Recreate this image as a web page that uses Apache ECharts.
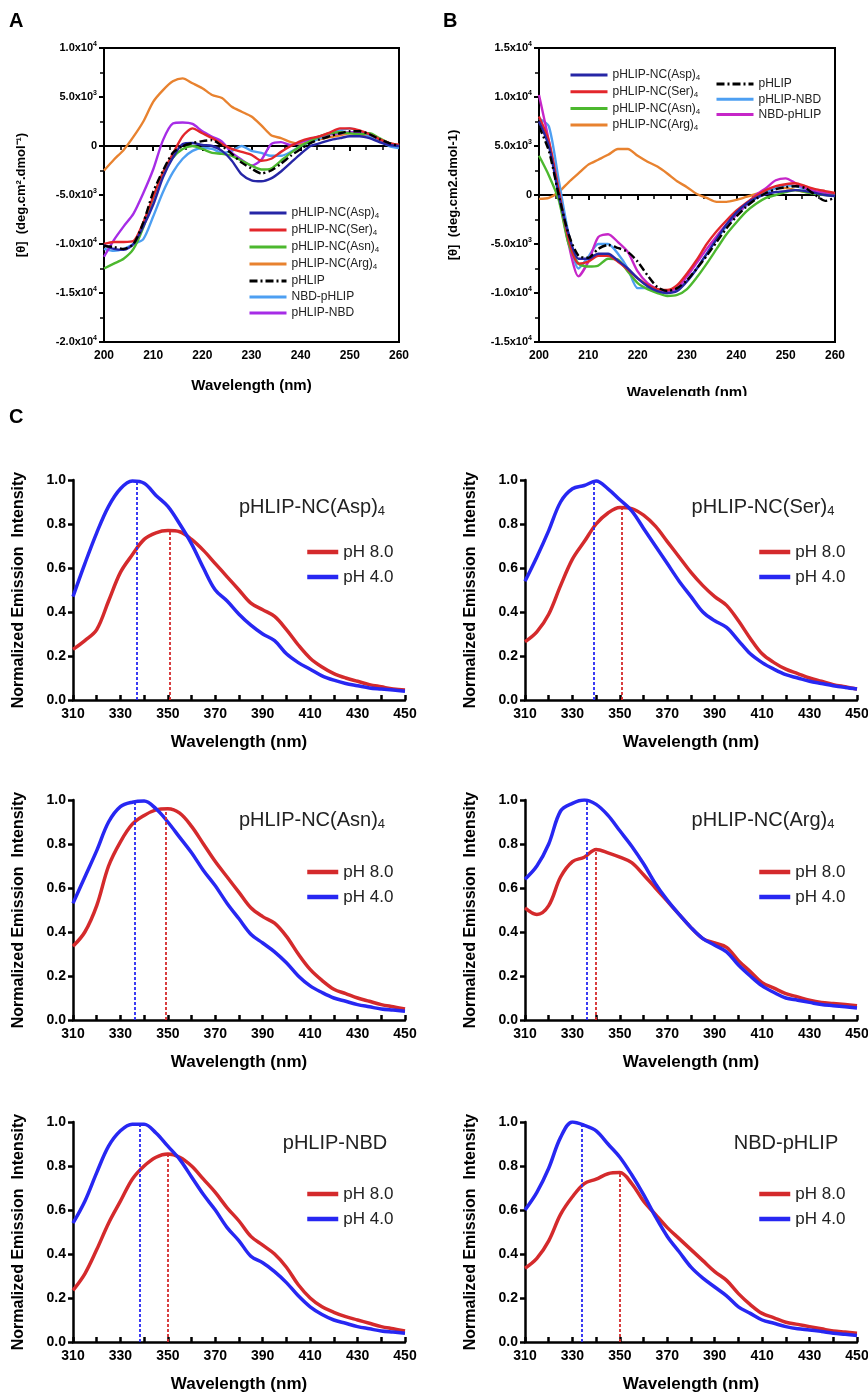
<!DOCTYPE html>
<html>
<head>
<meta charset="utf-8">
<script src="https://cdn.jsdelivr.net/npm/echarts@6/dist/echarts.min.js"></script>
<style>
html,body{margin:0;padding:0;background:#fff;}
#wrap{position:relative;width:868px;height:1394px;overflow:hidden;}
#cA{position:absolute;left:0;top:0;width:434px;height:398px;}
#cB{position:absolute;left:434px;top:0;width:434px;height:396px;}
#cC{position:absolute;left:0;top:400px;width:868px;height:994px;}
</style>
</head>
<body>
<div id="wrap"><div id="cA"></div><div id="cB"></div><div id="cC"></div></div>
<script>
// ---------- Panel A / B : CD spectra ----------
const wlCD = [200,202,204,206,208,210,212,214,216,218,220,222,224,226,228,230,232,234,236,238,240,242,244,246,248,250,252,254,256,258,260];
const cdTicksY_A = [-20000,-15000,-10000,-5000,0,5000,10000];
const cdTicksY_B = [-15000,-10000,-5000,0,5000,10000,15000];

// Panel A series
const A_asp  = [-10100,-10500,-10600,-10000,-8200,-6000,-3200,-1200,200,300,100,0,-500,-1500,-2900,-3500,-3600,-3300,-2600,-1700,-800,0,300,600,800,1000,1000,800,400,100,0];
const A_ser  = [-10000,-9800,-9800,-9700,-7800,-5200,-2700,-800,1000,1800,1300,800,200,-300,-600,-900,-1500,-1300,-600,0,500,800,1000,1400,1800,1800,1600,1200,700,300,100];
const A_asn  = [-12500,-12000,-11500,-10500,-8300,-5300,-2700,-1200,-300,0,-300,-700,-800,-1000,-1500,-2000,-2400,-2300,-1500,-700,0,500,1000,1300,1400,1300,1200,1300,800,300,0];
const A_arg  = [-2500,-1400,-400,950,2500,4500,5700,6600,6900,6400,5900,5200,4900,4000,3500,3000,2100,1100,800,400,200,500,700,900,1100,1300,1200,1000,700,300,100];
const A_phlip= [-10200,-10300,-10500,-10000,-7800,-4700,-2500,-700,0,300,500,600,0,-800,-1700,-2300,-2800,-2500,-1800,-1000,-300,300,700,1000,1300,1500,1500,1200,700,300,0];
const A_nbdP = [-10500,-10700,-10500,-10000,-9500,-7200,-4700,-2700,-1300,-500,-200,-300,-700,-500,0,-500,-700,-1000,-1000,-600,0,400,800,1300,1600,1800,1500,1000,500,0,-200];
const A_pNbd = [-11300,-9600,-8200,-6900,-4800,-2400,600,2300,2400,2250,1500,950,450,-700,-1400,-2000,-1400,200,400,100,400,700,1000,1200,1300,1400,1400,1200,700,300,0];

// Panel B series
const B_asp  = [7500,5000,0,-4000,-6500,-6500,-6000,-6000,-6700,-7500,-8500,-9300,-9800,-10000,-9800,-8800,-7500,-6000,-4500,-3000,-1800,-900,-300,100,300,400,500,400,200,0,-100];
const B_ser  = [8000,5500,500,-4500,-7000,-6800,-6200,-6200,-6800,-7600,-8500,-9200,-9600,-9700,-9200,-8000,-6600,-5000,-3700,-2600,-1600,-800,-100,500,900,1100,1200,900,600,400,200];
const B_asn  = [4000,2000,-500,-5000,-7000,-7300,-7200,-6500,-6600,-7800,-9000,-9600,-10000,-10300,-10200,-9600,-8400,-7000,-5500,-4000,-2800,-1700,-900,-300,0,300,500,300,100,0,-100];
const B_arg  = [-400,-300,300,1300,2200,3100,3600,4100,4700,4700,4000,3400,2900,2200,1400,800,100,-300,-700,-700,-500,-200,100,400,700,700,500,300,200,100,0];
const B_phlip= [7000,4500,0,-4000,-6200,-6400,-5500,-5100,-5400,-5800,-6800,-8200,-9400,-9800,-9500,-8700,-7500,-6200,-4800,-3400,-2200,-1200,-400,200,600,800,900,700,0,-600,-300];
const B_pNbd = [7800,7000,1500,-4000,-7500,-6300,-5000,-5000,-6000,-7500,-9500,-9500,-9800,-10000,-9700,-8800,-7500,-6000,-4500,-3200,-2000,-1100,-300,300,700,1000,900,600,300,100,0];
const B_nbdP = [10200,5500,0,-5000,-8300,-6800,-4300,-4000,-4800,-5800,-7800,-9000,-9600,-9800,-9500,-8300,-6900,-5500,-4200,-3000,-2000,-1000,0,700,1500,1700,1200,700,400,200,0];

// ---------- Panel C : emission spectra ----------
const wlC = [310,315,320,325,330,335,340,345,350,355,360,365,370,375,380,385,390,395,400,405,410,415,420,425,430,435,440,445,450];
const asp4 = [.47,.62,.76,.88,.96,.995,.985,.93,.88,.80,.71,.60,.50,.45,.39,.34,.30,.27,.21,.17,.14,.11,.09,.075,.065,.055,.05,.045,.04];
const asp8 = [.23,.27,.32,.45,.58,.66,.73,.76,.77,.765,.73,.68,.62,.56,.50,.44,.41,.38,.32,.25,.19,.15,.12,.10,.085,.07,.06,.05,.045];
const ser4 = [.54,.65,.77,.90,.96,.975,.995,.96,.91,.86,.78,.70,.62,.54,.47,.40,.36,.33,.27,.21,.17,.14,.115,.10,.085,.075,.065,.057,.05];
const ser8 = [.265,.31,.39,.52,.64,.72,.80,.85,.875,.87,.84,.79,.72,.65,.58,.52,.47,.43,.36,.28,.21,.17,.14,.12,.10,.085,.07,.06,.05];
const asn4 = [.53,.65,.77,.90,.97,.99,.995,.96,.90,.83,.76,.68,.61,.53,.46,.39,.35,.31,.26,.20,.155,.125,.10,.085,.07,.06,.05,.045,.04];
const asn8 = [.335,.40,.52,.70,.81,.89,.93,.955,.96,.94,.88,.80,.72,.65,.58,.51,.47,.44,.38,.30,.23,.18,.14,.12,.10,.085,.07,.06,.05];
const arg4 = [.64,.70,.80,.95,.985,1.0,.98,.93,.86,.79,.71,.62,.545,.48,.42,.37,.34,.31,.25,.20,.155,.125,.10,.09,.08,.07,.065,.06,.055];
const arg8 = [.51,.48,.52,.65,.72,.74,.775,.76,.74,.715,.66,.60,.54,.48,.42,.37,.35,.33,.27,.22,.17,.145,.12,.105,.09,.08,.075,.07,.065];
const pnbd4 = [.54,.64,.77,.89,.96,.99,.99,.95,.89,.83,.75,.67,.60,.52,.46,.39,.36,.32,.27,.21,.16,.125,.10,.085,.07,.06,.05,.045,.04];
const pnbd8 = [.235,.31,.42,.54,.64,.74,.80,.84,.855,.84,.80,.74,.68,.61,.55,.48,.44,.40,.34,.26,.20,.16,.135,.115,.10,.085,.07,.06,.05];
const nbdp4 = [.60,.68,.79,.93,1.0,.985,.96,.90,.84,.76,.67,.57,.48,.41,.34,.29,.25,.21,.16,.13,.10,.085,.07,.06,.055,.048,.04,.035,.03];
const nbdp8 = [.335,.38,.46,.58,.66,.72,.74,.765,.77,.72,.64,.58,.52,.47,.42,.37,.32,.28,.22,.17,.13,.11,.09,.08,.07,.06,.05,.045,.04];
const peak4Wl  = [337,339,336,336,338,334];
const peak4Val = [1.0,1.0,1.0,1.0,1.0,0.985];
const peak8Wl  = [351,351,349,340,350,350];
const peak8Val = [0.77,0.875,0.96,0.775,0.855,0.77];
const cTitles = [['pHLIP-NC(Asp)','4'],['pHLIP-NC(Ser)','4'],['pHLIP-NC(Asn)','4'],['pHLIP-NC(Arg)','4'],['pHLIP-NBD',''],['NBD-pHLIP','']];
const cRed  = [asp8, ser8, asn8, arg8, pnbd8, nbdp8];
const cBlue = [asp4, ser4, asn4, arg4, pnbd4, nbdp4];
const cXTicks = [310,330,350,370,390,410,430,450];
const cYTicks = [0,0.2,0.4,0.6,0.8,1.0];

const FONT = "'Liberation Sans', Arial, Helvetica, sans-serif";
const C_ASP='#2626a6', C_SER='#e3262b', C_ASN='#4cb82e', C_ARG='#e8822f', C_PH='#000000', C_LB='#4d9ff2', C_PU='#a62ce6', C_MA='#c626c8';
const RED='#d42a2c', BLUE='#2727f2';

function sci(v){
  if (v === 0) return '{n|0}';
  const e = Math.floor(Math.log10(Math.abs(v)) + 1e-9);
  const m = v / Math.pow(10, e);
  return '{n|' + m.toFixed(1) + 'x10}{s|' + e + '}';
}
const sciRich = {
  n:{fontSize:11,fontWeight:'bold',fontFamily:FONT,color:'#000'},
  s:{fontSize:7,fontWeight:'bold',fontFamily:FONT,color:'#000',padding:[0,0,7,0]}
};
function subName(name){
  if (/\)4$/.test(name)) return '{a|' + name.slice(0,-1) + '}{s|4}';
  return '{a|' + name + '}';
}
const legRich = {
  a:{fontSize:12,fontFamily:FONT,color:'#222',lineHeight:14},
  s:{fontSize:8,fontFamily:FONT,color:'#222',padding:[6,0,0,0]}
};

function cdLine(name, data, color, dash){
  return {
    type:'line', name:name, data: wlCD.map((x,i)=>[x,data[i]]),
    smooth:0.25, symbol:'none', z: dash ? 5 : 3,
    lineStyle:{color:color,width:2.4,type: dash ? [8,3,2,3] : 'solid'},
    itemStyle:{color:color}
  };
}
function cdAxes(yMin, yMax, leftName, nameGapY){
  return {
    xAxis:{type:'value',min:200,max:260,interval:10,
      axisLine:{show:true,lineStyle:{color:'#000',width:2}},
      axisTick:{show:true,length:5,lineStyle:{color:'#000',width:2}},
      minorTick:{show:true,splitNumber:3,length:4,lineStyle:{color:'#000',width:1.5}},
      splitLine:{show:false},
      axisLabel:{color:'#000',fontSize:12,fontWeight:'bold',fontFamily:FONT,margin:8},
      name:'Wavelength (nm)',nameLocation:'middle',nameGap:36,
      nameTextStyle:{color:'#000',fontSize:15,fontWeight:'bold',fontFamily:FONT}},
    yAxis:{type:'value',min:yMin,max:yMax,interval:5000,
      axisLine:{show:true,lineStyle:{color:'#000',width:2}},
      axisTick:{show:true,length:5,lineStyle:{color:'#000',width:2}},
      minorTick:{show:true,splitNumber:2,length:4,lineStyle:{color:'#000',width:1.5}},
      splitLine:{show:false},
      axisLabel:{formatter:sci,rich:sciRich,margin:7},
      name:leftName,nameLocation:'middle',nameGap:nameGapY,
      nameTextStyle:{color:'#000',fontSize:13,fontWeight:'bold',fontFamily:FONT}}
  };
}
const legCommon = {orient:'vertical',padding:0,itemWidth:37,itemHeight:14,
  formatter:subName,textStyle:{rich:legRich,fontSize:12},itemStyle:{opacity:0},
  lineStyle:{width:3}};

// ---------- Chart A ----------
const chA = echarts.init(document.getElementById('cA'));
const axA = cdAxes(cdTicksY_A[0], cdTicksY_A[cdTicksY_A.length-1], '[θ]  (deg.cm².dmol⁻¹)', 76);
chA.setOption({
  animation:false,
  grid:{left:104,top:48,width:295,height:294,show:true,borderColor:'#000',borderWidth:2,backgroundColor:'transparent',outerBoundsMode:'none'},
  xAxis:axA.xAxis, yAxis:axA.yAxis,
  legend:Object.assign({},legCommon,{left:248,top:207,itemGap:4,
    data:['pHLIP-NC(Asp)4','pHLIP-NC(Ser)4','pHLIP-NC(Asn)4','pHLIP-NC(Arg)4','pHLIP','NBD-pHLIP','pHLIP-NBD']}),
  graphic:[{type:'text',left:9,top:11,style:{text:'A',fontSize:20,fontWeight:'bold',fontFamily:FONT,fill:'#000'}}],
  series:[
    cdLine('pHLIP-NC(Arg)4',A_arg,C_ARG),
    cdLine('NBD-pHLIP',A_nbdP,C_LB),
    cdLine('pHLIP-NBD',A_pNbd,C_PU),
    cdLine('pHLIP-NC(Asn)4',A_asn,C_ASN),
    cdLine('pHLIP-NC(Ser)4',A_ser,C_SER),
    cdLine('pHLIP-NC(Asp)4',A_asp,C_ASP),
    cdLine('pHLIP',A_phlip,C_PH,true)
  ]
});

// ---------- Chart B ----------
const chB = echarts.init(document.getElementById('cB'));
const axB = cdAxes(cdTicksY_B[0], cdTicksY_B[cdTicksY_B.length-1], '[θ]  (deg.cm2.dmol-1)', 79);
axB.xAxis.nameGap = 43;
chB.setOption({
  animation:false,
  grid:{left:105,top:48,width:296,height:294,show:true,borderColor:'#000',borderWidth:2,backgroundColor:'transparent',outerBoundsMode:'none'},
  xAxis:axB.xAxis, yAxis:axB.yAxis,
  legend:[
    Object.assign({},legCommon,{left:135,top:69,itemGap:3.7,
     data:['pHLIP-NC(Asp)4','pHLIP-NC(Ser)4','pHLIP-NC(Asn)4','pHLIP-NC(Arg)4']}),
    Object.assign({},legCommon,{left:281,top:78,itemGap:3.2,
     data:['pHLIP','pHLIP-NBD','NBD-pHLIP']})
  ],
  graphic:[{type:'text',left:9,top:11,style:{text:'B',fontSize:20,fontWeight:'bold',fontFamily:FONT,fill:'#000'}}],
  series:[
    cdLine('pHLIP-NC(Arg)4',B_arg,C_ARG),
    cdLine('pHLIP-NBD',B_pNbd,C_LB),
    cdLine('NBD-pHLIP',B_nbdP,C_MA),
    cdLine('pHLIP-NC(Asn)4',B_asn,C_ASN),
    cdLine('pHLIP-NC(Ser)4',B_ser,C_SER),
    cdLine('pHLIP-NC(Asp)4',B_asp,C_ASP),
    cdLine('pHLIP',B_phlip,C_PH,true)
  ]
});

// ---------- Chart C ----------
const chC = echarts.init(document.getElementById('cC'));
const gLeft = [73,525], gTop = [80,400,722], gW = 332, gH = 220;
const grids=[], xAxes=[], yAxes=[], series=[], legends=[], graphics=[];
graphics.push({type:'text',left:9,top:7,style:{text:'C',fontSize:20,fontWeight:'bold',fontFamily:FONT,fill:'#000'}});
const titlePos = [[312,107],[763,107],[312,420],[763,420],[335,743],[786,743]];
for (let i=0;i<6;i++){
  const col=i%2, row=Math.floor(i/2);
  grids.push({left:gLeft[col],top:gTop[row],width:gW,height:gH,outerBoundsMode:'none'});
  xAxes.push({type:'value',gridIndex:i,min:cXTicks[0],max:cXTicks[cXTicks.length-1],interval:10,
    axisLine:{show:true,lineStyle:{color:'#000',width:2.5}},
    axisTick:{show:true,inside:true,length:5,lineStyle:{color:'#000',width:2.5}},
    splitLine:{show:false},
    axisLabel:{color:'#000',fontSize:14,fontWeight:'bold',fontFamily:FONT,margin:7,
      formatter:v=> cXTicks.indexOf(v)>=0 ? String(v) : ''},
    name:'Wavelength (nm)',nameLocation:'middle',nameGap:34,
    nameTextStyle:{color:'#000',fontSize:17,fontWeight:'bold',fontFamily:FONT}});
  yAxes.push({type:'value',gridIndex:i,min:cYTicks[0],max:cYTicks[cYTicks.length-1],interval:0.2,
    axisLine:{show:true,lineStyle:{color:'#000',width:2.5}},
    axisTick:{show:true,length:5,lineStyle:{color:'#000',width:2.5}},
    splitLine:{show:false},
    axisLabel:{color:'#000',fontSize:14,fontWeight:'bold',fontFamily:FONT,margin:7,formatter:v=>v.toFixed(1)},
    name:'Normalized Emission  Intensity',nameLocation:'middle',nameGap:46,
    nameTextStyle:{color:'#000',fontSize:16,fontWeight:'bold',fontFamily:FONT}});
  series.push({type:'line',name:'pH 8.0',xAxisIndex:i,yAxisIndex:i,
    data:wlC.map((x,k)=>[x,cRed[i][k]]),smooth:0.35,symbol:'none',
    lineStyle:{color:RED,width:3.5},itemStyle:{color:RED},
    markLine:{silent:true,symbol:['none','none'],label:{show:false},animation:false,
      lineStyle:{color:RED,type:[3,2],width:1.8},
      data:[[{coord:[peak8Wl[i],0]},{coord:[peak8Wl[i],peak8Val[i]]}]]}});
  series.push({type:'line',name:'pH 4.0',xAxisIndex:i,yAxisIndex:i,
    data:wlC.map((x,k)=>[x,cBlue[i][k]]),smooth:0.35,symbol:'none',
    lineStyle:{color:BLUE,width:3.5},itemStyle:{color:BLUE},
    markLine:{silent:true,symbol:['none','none'],label:{show:false},animation:false,
      lineStyle:{color:BLUE,type:[3,2],width:1.8},
      data:[[{coord:[peak4Wl[i],0]},{coord:[peak4Wl[i],peak4Val[i]]}]]}});
  legends.push({orient:'vertical',padding:0,left: col===0 ? 305 : 757, top: gTop[row] + 62,
    itemWidth:31,itemHeight:10,itemGap:5,data:['pH 8.0','pH 4.0'],itemStyle:{opacity:0},
    lineStyle:{width:4.5},
    textStyle:{fontSize:17,fontFamily:FONT,color:'#222',lineHeight:20,padding:[0,0,0,0]}});
  const t = cTitles[i];
  graphics.push({type:'text',x:titlePos[i][0],y:titlePos[i][1],
    style:{text: t[1] ? '{t|'+t[0]+'}{s|'+t[1]+'}' : '{t|'+t[0]+'}',
      align:'center',verticalAlign:'middle',
      rich:{t:{fontSize:20,fontFamily:FONT,fill:'#222',color:'#222'},
            s:{fontSize:13,fontFamily:FONT,fill:'#222',color:'#222',padding:[9,0,0,0]}}}});
}
chC.setOption({animation:false,grid:grids,xAxis:xAxes,yAxis:yAxes,series:series,legend:legends,graphic:graphics});
</script>
</body>
</html>
